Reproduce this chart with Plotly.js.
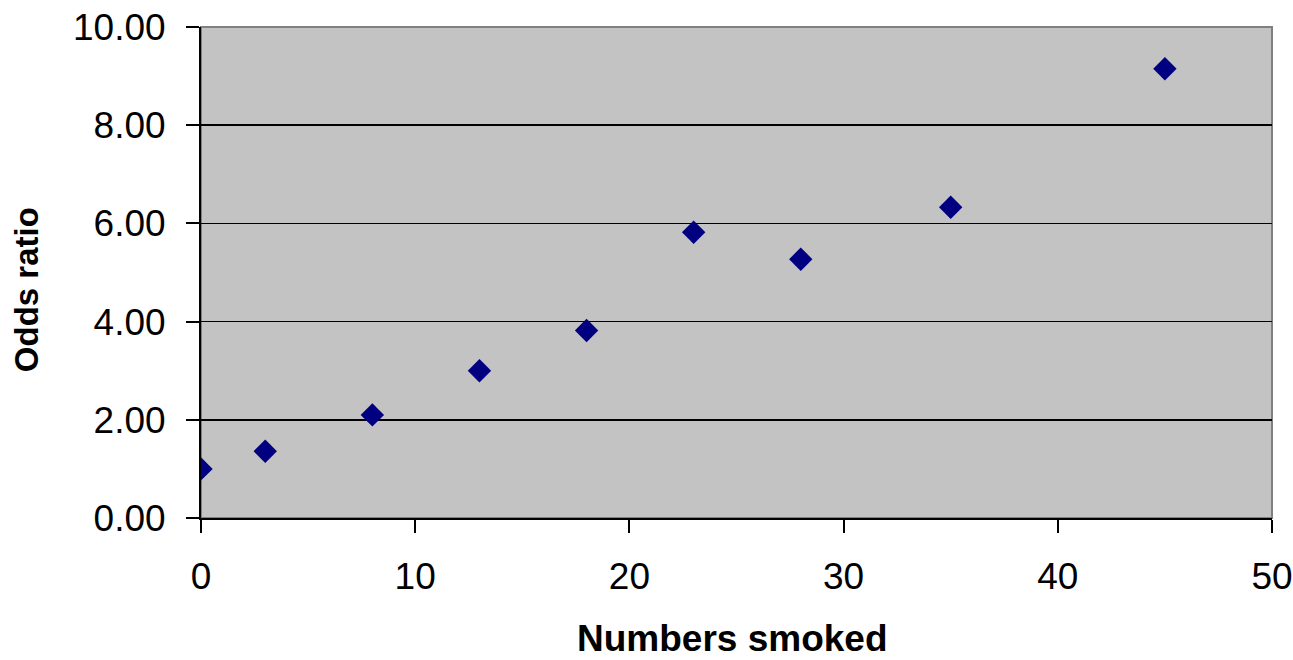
<!DOCTYPE html>
<html>
<head>
<meta charset="utf-8">
<script src="https://cdn.plot.ly/plotly-3.0.1.min.js"></script>
<style>html,body{margin:0;padding:0;background:#fff;}#chart{width:1293px;height:660px;}</style>
</head>
<body>
<div id="chart"></div>
<script>
const numbersSmoked = [0, 3, 8, 13, 18, 23, 28, 35, 45];
const oddsRatio = [1.00, 1.36, 2.10, 3.00, 3.82, 5.82, 5.27, 6.33, 9.15];
const xTitle = "Numbers smoked";
const yTitle = "Odds ratio";

const trace = {
  x: numbersSmoked,
  y: oddsRatio,
  type: "scatter",
  mode: "markers",
  marker: {symbol: "diamond", color: "#000080", size: 18, line: {width: 0}},
  hoverinfo: "x+y"
};

const layout = {
  width: 1293, height: 660,
  margin: {l: 201, r: 21, t: 27, b: 142},
  paper_bgcolor: "#ffffff",
  plot_bgcolor: "#c3c3c3",
  showlegend: false,
  font: {family: "Liberation Sans, Arial, sans-serif", color: "#000", size: 37},
  xaxis: {
    range: [0, 50], dtick: 10, tick0: 0,
    showgrid: false, zeroline: false,
    ticks: "outside", ticklen: 13, tickwidth: 2, tickcolor: "#000",
    showline: true, linecolor: "#000", linewidth: 2,
    tickfont: {size: 37}, ticklabelstandoff: 12
  },
  yaxis: {
    range: [0, 10], dtick: 2, tick0: 0, tickformat: ".2f",
    showgrid: true, gridcolor: "#000", gridwidth: 1.5,
    zeroline: false,
    ticks: "outside", ticklen: 13, tickwidth: 2, tickcolor: "#000",
    showline: true, linecolor: "#000", linewidth: 2,
    tickfont: {size: 37}, ticklabelstandoff: 13
  },
  annotations: [
    {text: "<b>" + xTitle + "</b>", xref: "paper", yref: "paper",
     x: 0.496, y: -0.2885, xanchor: "center", yanchor: "bottom", showarrow: false,
     font: {size: 37}, borderpad: 0},
    {text: "<b>" + yTitle + "</b>", xref: "paper", yref: "paper", textangle: -90,
     x: -0.1634, y: 0.466, xanchor: "center", yanchor: "middle", showarrow: false,
     font: {size: 33}}
  ],
  shapes: [{type: "rect", xref: "paper", yref: "paper", x0: 0, x1: 1, y0: 0, y1: 1,
            line: {color: "#808080", width: 2}, fillcolor: "rgba(0,0,0,0)", layer: "below"}]
};

Plotly.newPlot("chart", [trace], layout, {displayModeBar: false, staticPlot: true});
</script>
</body>
</html>
